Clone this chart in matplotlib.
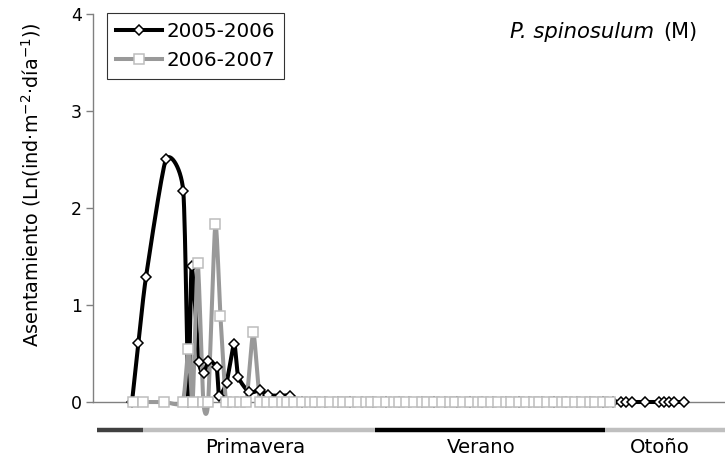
import numpy as np
import matplotlib
matplotlib.use("Agg")
import matplotlib.pyplot as plt
from matplotlib.lines import Line2D

plt.rcParams['font.family'] = ['DejaVu Sans']
plt.rcParams['mathtext.fontset'] = 'dejavusans'

# ---- data (x = days since 1 September) ----
x_0506 = [15.3, 17.8, 20.8, 28.6, 35.4, 37.4, 38.7, 41.6, 43.6, 45.2, 48.5, 49.5,
          52.4, 55.4, 57.0, 61.3, 65.5, 68.7, 73.3, 77.3,
          82, 87, 91, 96, 101, 105.5, 110, 115, 120, 124, 129, 134, 138, 143,
          148, 152.5, 157, 162, 167, 171, 176, 181, 185.5, 190, 195, 200, 204,
          207.3, 209.3, 211.4, 216.5, 222.0, 223.9, 225.9, 227.8, 231.8]
y_0506 = [0.0, 0.61, 1.29, 2.50, 2.18, 0.0, 1.40, 0.41, 0.30, 0.42, 0.36, 0.065,
          0.20, 0.60, 0.26, 0.10, 0.12, 0.07, 0.065, 0.065,
          0, 0, 0, 0, 0, 0, 0, 0, 0, 0, 0, 0, 0, 0,
          0, 0, 0, 0, 0, 0, 0, 0, 0, 0, 0, 0, 0,
          0, 0, 0, 0, 0, 0, 0, 0, 0]

x_0607 = [15.6, 19.7, 28.0, 35.2, 37.4, 39.1, 41.1, 43.3, 45.2, 48.0, 50.0, 52.2,
          54.9, 57.6, 60.2, 62.9, 65.5, 68.2,
          71, 74, 76, 79, 82, 85, 87, 90, 93, 96, 98, 101, 104, 107, 109, 112,
          115, 118, 120, 123, 126, 129, 131, 134, 137, 140, 142, 145, 148, 151,
          153, 156, 159, 162, 164, 167, 170, 173, 175, 178, 181, 184, 186, 189,
          192, 195, 197, 200, 203]
y_0607 = [0, 0, 0, 0, 0.55, 0, 1.43, 0, 0, 1.84, 0.89, 0,
          0, 0, 0, 0.72, 0, 0] + [0] * 49

series_labels = ["2005-2006", "2006-2007"]

season_names = ["", "Primavera", "Verano", "Otoño"]
season_start = [1.6, 19.6, 110.6, 200.8]
season_end = [19.6, 110.6, 200.8, 248.0]
season_label_x = [None, 63.5, 152.5, 222.4]
season_colors = ["#404040", "#BFBFBF", "#000000", "#BFBFBF"]

y_ticks = [0, 1, 2, 3, 4]


def smooth(xs, ys, n=16, k=0.1):
    """Smoothed line through every point (Bezier segments)."""
    xs = np.asarray(xs, float)
    ys = np.asarray(ys, float)
    P = np.column_stack([xs, ys])
    m = len(P)
    out = [P[0]]
    t = np.linspace(0, 1, n)[1:, None]
    for i in range(m - 1):
        p0 = P[i - 1] if i > 0 else P[i]
        p1 = P[i]
        p2 = P[i + 1]
        p3 = P[i + 2] if i + 2 < m else P[i + 1]
        c1 = p1 + (p2 - p0) * k
        c2 = p2 - (p3 - p1) * k
        seg = ((1 - t) ** 3) * p1 + 3 * ((1 - t) ** 2) * t * c1 + 3 * (1 - t) * t ** 2 * c2 + t ** 3 * p2
        out.extend(seg)
    out = np.array(out)
    return out[:, 0], out[:, 1]


fig = plt.figure(figsize=(7.25, 4.65), dpi=100)
ax = fig.add_axes([93 / 725, 63 / 465, 632 / 725, 388 / 465])

black = "#000000"
gray_line = "#999999"
gray_edge = "#BDBDBD"

sx, sy = smooth(x_0506, y_0506)
ax.plot(sx, sy, color=black, lw=2.9, zorder=3, clip_on=False, solid_joinstyle='round')
sx2, sy2 = smooth(x_0607, y_0607)
ax.plot(sx2, sy2, color=gray_line, lw=2.9, zorder=4, clip_on=False, solid_joinstyle='round')

ax.plot(x_0506, y_0506, ls='none', marker='D', ms=5.6, mfc='white', mec=black,
        mew=1.1, zorder=5, clip_on=False)
ax.plot(x_0607, y_0607, ls='none', marker='s', ms=6.8, mfc='white', mec=gray_edge,
        mew=1.1, zorder=6, clip_on=False)

ax.set_xlim(0, 248)
ax.set_ylim(0, 4)
ax.set_yticks(y_ticks)
ax.set_yticklabels([str(v) for v in y_ticks], fontsize=12.5)
ax.set_xticks([])
ax.tick_params(axis='y', direction='out', length=5, width=1, color='#808080', pad=3)

for s in ['top', 'right']:
    ax.spines[s].set_visible(False)
ax.spines['left'].set_color('#808080')
ax.spines['bottom'].set_color('#808080')
ax.spines['left'].set_linewidth(1)
ax.spines['bottom'].set_linewidth(1)
ax.spines['bottom'].set_zorder(2)

ax.set_ylabel("Asentamiento (Ln(ind·m$^{-2}$·día$^{-1}$))", fontsize=13.9)
ax.yaxis.set_label_coords(-0.079, 0.56)

# season bar
trans = ax.get_xaxis_transform()
for name, a, b, lx, c in zip(season_names, season_start, season_end, season_label_x, season_colors):
    ax.plot([a, b], [-0.0725, -0.0725], transform=trans, color=c, lw=3.2,
            solid_capstyle='butt', clip_on=False)
    if name:
        ax.text(lx, -0.118, name, transform=trans, ha='center', va='center',
                fontsize=14.2)

# species text
ax.text(0.66, 0.954, "P. spinosulum", transform=ax.transAxes, style='italic',
        ha='left', va='center', fontsize=15.2)
ax.text(0.956, 0.954, "(M)", transform=ax.transAxes, ha='right', va='center',
        fontsize=15)

handles = [
    Line2D([], [], color=black, lw=2.9, marker='D', ms=5.6, mfc='white', mec=black, mew=1.1),
    Line2D([], [], color=gray_line, lw=2.9, marker='s', ms=6.8, mfc='white', mec=gray_edge, mew=1.1),
]
leg = ax.legend(handles, series_labels, loc='upper left', bbox_to_anchor=(0.022, 1.003),
                borderaxespad=0, fontsize=14.3, frameon=True, fancybox=False,
                handlelength=2.3, handletextpad=0.25, borderpad=0.45, labelspacing=0.5)
leg.get_frame().set_edgecolor('black')
leg.get_frame().set_linewidth(0.8)

fig.savefig("out.png", dpi=100)
